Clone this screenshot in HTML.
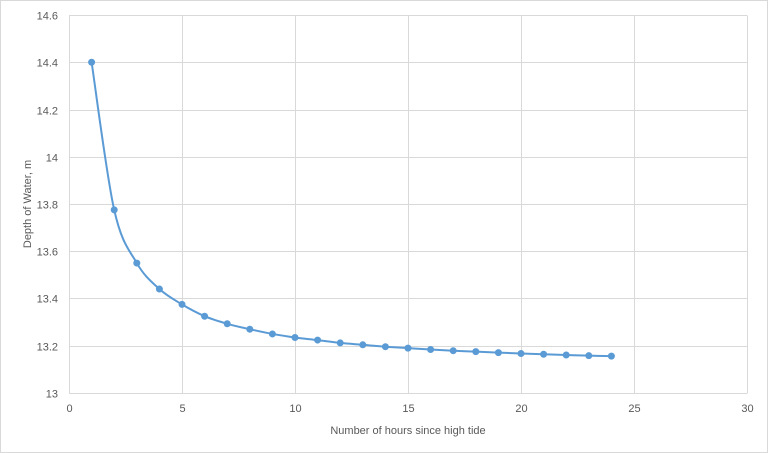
<!DOCTYPE html>
<html><head><meta charset="utf-8"><style>
html,body{margin:0;padding:0;background:#fff;}
svg{display:block;font-family:"Liberation Sans",sans-serif;}
</style></head><body>
<svg id="s" width="768" height="453" viewBox="0 0 768 453">
<rect x="0.5" y="0.5" width="767" height="452" fill="#fff" stroke="#d9d9d9"/>
<g id="grid" stroke="#d9d9d9" stroke-width="1"></g>
<g id="lbl" font-size="11" fill="#595959"></g>
<text x="408" y="434" font-size="11" fill="#595959" text-anchor="middle">Number  of hours since high tide</text>
<text transform="translate(31,204) rotate(-90)" font-size="11" fill="#595959" text-anchor="middle">Depth of Water,  m</text>
<path id="curve" fill="none" stroke="#5b9bd5" stroke-width="2"/>
<g id="pts" fill="#5b9bd5"></g>
</svg>
<script>
var ns="http://www.w3.org/2000/svg";
function X(v){return 69+v*22.6;}
function Y(v){return 393-(v-13)/0.2*47.25;}
var g=document.getElementById('grid'),l=document.getElementById('lbl');
function el(p,t,a,txt){var e=document.createElementNS(ns,t);for(var k in a)e.setAttribute(k,a[k]);if(txt!=null)e.textContent=txt;p.appendChild(e);}
for(var i=0;i<=8;i++){var v=13+i*0.2,y=Math.round(Y(v))+0.5;
 el(g,'line',{x1:69,x2:747,y1:y,y2:y});
 var t=(Math.round(v*10)/10).toString();
 el(l,'text',{x:58,y:y+4,'text-anchor':'end'},t);}
for(var i=0;i<=6;i++){var x=Math.round(X(i*5))+0.5;
 el(g,'line',{x1:x,x2:x,y1:Math.round(Y(14.6))+0.5,y2:393.5});
 el(l,'text',{x:x,y:412,'text-anchor':'middle'},String(i*5));}
var d=[14.4,13.775,13.55,13.44,13.375,13.325,13.293,13.27,13.25,13.235,13.224,13.212,13.204,13.196,13.19,13.184,13.179,13.175,13.171,13.167,13.164,13.161,13.158,13.156];
var P=d.map(function(v,i){return [X(i+1),Y(v)];});
var s="M"+P[0][0]+","+P[0][1];
for(var i=0;i<P.length-1;i++){var p0=P[Math.max(i-1,0)],p1=P[i],p2=P[i+1],p3=P[Math.min(i+2,P.length-1)];
 var t=1/6;
 s+=" C"+(p1[0]+(p2[0]-p0[0])*t)+","+(p1[1]+(p2[1]-p0[1])*t)+" "+(p2[0]-(p3[0]-p1[0])*t)+","+(p2[1]-(p3[1]-p1[1])*t)+" "+p2[0]+","+p2[1];}
document.getElementById('curve').setAttribute('d',s);
var pg=document.getElementById('pts');
P.forEach(function(p){el(pg,'circle',{cx:p[0],cy:p[1],r:3.5});});
</script>
</body></html>
